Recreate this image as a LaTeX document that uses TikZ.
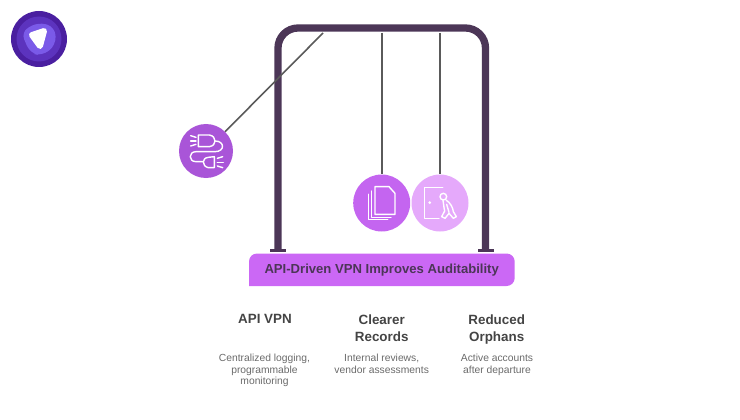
\documentclass[tikz,border=0pt]{standalone}
\usepackage{fontspec}
\setmainfont{Liberation Sans}
\definecolor{framedark}{HTML}{4C3657}
\definecolor{stringgray}{HTML}{5A5A5A}
\definecolor{ballplug}{HTML}{A955D8}
\definecolor{balldoc}{HTML}{C465F0}
\definecolor{balldoor}{HTML}{E5A9FB}
\definecolor{barfill}{HTML}{CB68F5}
\definecolor{headtext}{HTML}{444444}
\definecolor{desctext}{HTML}{6A6A6A}
\definecolor{logoa}{HTML}{4A1FA0}
\definecolor{logob}{HTML}{5C33BE}
\definecolor{logoc}{HTML}{7A5AE8}
\tikzset{
  ball/.style={circle, minimum size=#1, inner sep=0pt},
  string/.style={draw=stringgray, line width=1.6pt},
  icon/.style={draw=white, line width=1.4pt, line join=round, line cap=round},
  headtxt/.style={anchor=north, text=headtext, font=\fontsize{13.4}{16.8}\selectfont\bfseries, align=center},
  desctxt/.style={anchor=north, text=desctext, font=\fontsize{10.3}{11.6}\selectfont, align=center}
}
\begin{document}
\begin{tikzpicture}[x=1pt, y=-1pt]
	\useasboundingbox (0, 0) rectangle (740, 420);
	% logo
	\fill [logoa] (39, 39) circle (28);
	\fill [logob] (39, 39) circle (22.5);
	\fill [logoc, rounded corners=8pt] (21, 32) -- (38, 22) -- (55, 27) -- (56, 45) -- (42, 56) -- (30, 53) -- cycle;
	\fill [white, draw=white, line width=6pt, line join=round] (32, 35) -- (44, 31) -- (40, 46) -- cycle;
	% frame and feet
	\draw [framedark, line width=7.3pt, rounded corners=20pt] (278, 250) -- (278, 28) -- (485.5, 28) -- (485.5, 250);
	\fill [framedark] (270, 249) rectangle (286, 252.3);
	\fill [framedark] (478, 249) rectangle (494, 252.3);
	% title bar
	\fill [barfill, rounded corners=8pt] (249, 286) -- (249, 253.5) -- (514.7, 253.5) -- (514.7, 286) [sharp corners] -- cycle;
	\node (barlabel) at (381.7, 270) [text=framedark, font=\fontsize{13.1}{15}\selectfont\bfseries] {API-Driven VPN Improves Auditability};
	% balls and their strings
	\node (plugball) at (206, 151) [ball=54pt, fill=ballplug] {};
	\node (docball) at (381.7, 203) [ball=57pt, fill=balldoc] {};
	\node (doorball) at (440, 203) [ball=57pt, fill=balldoor] {};
	\coordinate (plugtop) at (323, 33);
	\coordinate (doctop) at (381.7, 33);
	\coordinate (doortop) at (440, 33);
	\draw [string] (plugtop) -- (plugball);
	\draw [string] (doctop) -- (docball);
	\draw [string] (doortop) -- (doorball);
	% plug icon
	\begin{scope}[shift={(170, 115)}, scale=1/3]
		\draw [icon] (85, 60) -- (118, 60) .. controls (130, 62) and (135, 70) .. (135, 78) .. controls (135, 86) and (130, 93) .. (118, 95) -- (85, 95) -- cycle;
		\draw [icon] (62, 62) -- (78, 67);
		\draw [icon] (62, 78) -- (78, 78);
		\draw [icon] (62, 93) -- (78, 88);
		\draw [icon] (135, 78) .. controls (165, 78) and (165, 110) .. (135, 110) -- (78, 110) .. controls (55, 110) and (55, 140) .. (78, 140) -- (100, 140);
		\draw [icon] (133, 125) -- (133, 158) -- (115, 158) .. controls (105, 156) and (100, 148) .. (100, 141) .. controls (100, 134) and (105, 128) .. (115, 127) -- cycle;
		\draw [icon] (142, 130) -- (158, 125);
		\draw [icon] (142, 142) -- (160, 142);
		\draw [icon] (142, 153) -- (158, 158);
	\end{scope}
	% document icon
	\begin{scope}[shift={(345, 165)}, scale=1/3]
		\draw [icon] (90, 65) -- (132, 65) -- (150, 85) -- (150, 148) -- (90, 148) -- cycle;
		\draw [icon] (80, 78) -- (80, 157) -- (138, 157);
		\draw [icon] (70, 88) -- (70, 163) -- (128, 163);
	\end{scope}
	% door icon
	\begin{scope}[shift={(345, 165)}, scale=1/3]
		\draw [icon] (293, 68) -- (238, 68) -- (238, 160) -- (282, 160);
		\fill [white] (254, 113) circle (4.5);
		\draw [icon] (295, 95) circle (10);
		\draw [icon] (303, 105) .. controls (316, 113) and (324, 128) .. (325, 140) -- (334, 155) -- (325, 160) -- (312, 145) -- (300, 160) -- (290, 155) -- (299, 138) .. controls (296, 125) and (296, 115) .. (294, 106);
		\draw [icon] (305, 118) -- (312, 142);
	\end{scope}
	% captions
	\node (apihead) at (265, 311) [headtxt] {API VPN};
	\node (clearhead) at (381.7, 311) [headtxt] {Clearer\\Records};
	\node (orphanhead) at (496.7, 311) [headtxt] {Reduced\\Orphans};
	\node (apidesc) at (264.5, 350.5) [desctxt] {Centralized logging,\\programmable\\monitoring};
	\node (cleardesc) at (381.7, 350.5) [desctxt] {Internal reviews,\\vendor assessments};
	\node (orphandesc) at (497, 350.5) [desctxt] {Active accounts\\after departure};
\end{tikzpicture}
\end{document}
